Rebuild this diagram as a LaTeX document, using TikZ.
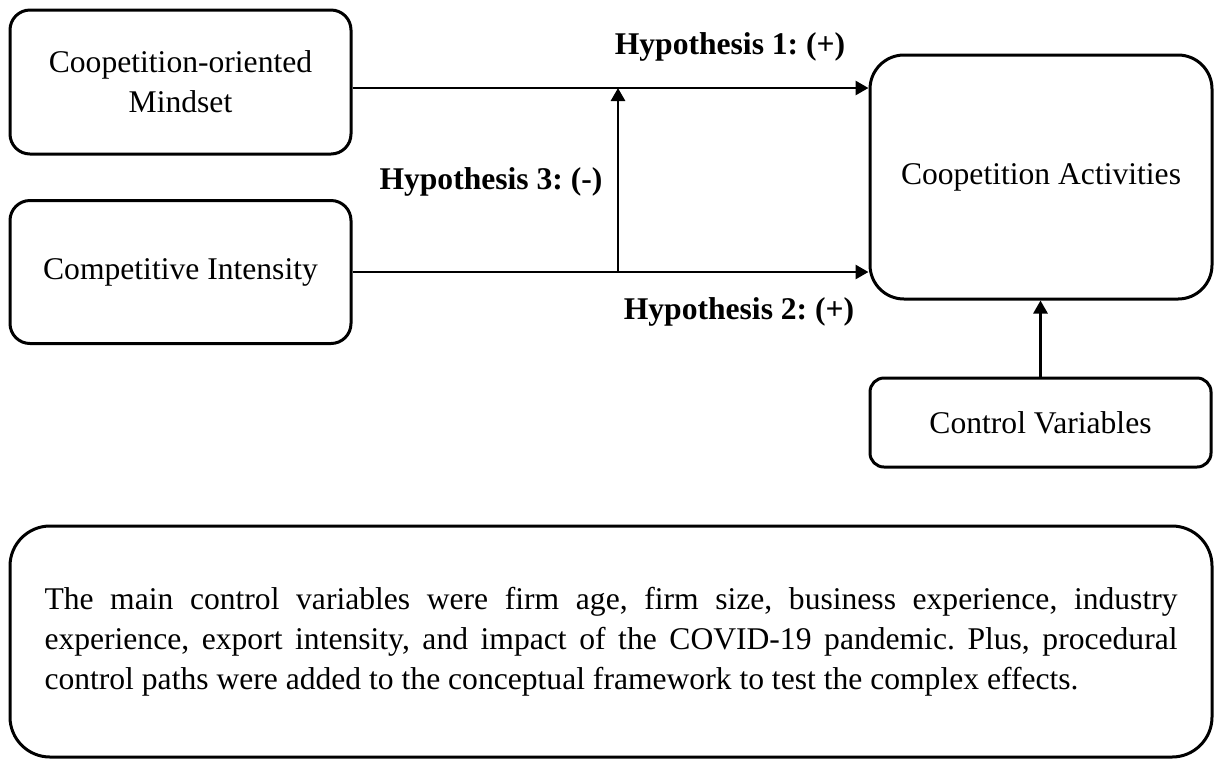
\documentclass[tikz,border=0pt]{standalone}
\usepackage{fontspec}
\setmainfont{Liberation Serif}
\usetikzlibrary{arrows.meta}
\frenchspacing

\tikzset{
	box/.style = {draw, line width=1.5pt, rounded corners=10pt, inner sep=0pt,
		align=center, font=\fontsize{15.8}{20}\selectfont},
	hyp/.style = {font=\fontsize{15.8}{20}\selectfont\bfseries},
	link/.style = {-{Triangle[length=6.5pt,width=7pt]}, line width=1.4pt},
}

\begin{document}
\begin{tikzpicture}[x=0.5pt, y=-0.5pt]
	\useasboundingbox (0,0) rectangle (1214,762);
	% boxes
	\node[box, minimum width=170.5pt, minimum height=72pt] (mind) at (180.5,82) {Coopetition-oriented\\Mindset};
	\node[box, minimum width=170.5pt, minimum height=71.5pt] (comp) at (180.5,272) {Competitive Intensity};
	\node[box, rounded corners=17pt, minimum width=171pt, minimum height=122pt] (act) at (1041,177) {Coopetition Activities};
	\node[box, rounded corners=7pt, minimum width=170.5pt, minimum height=44.5pt] (ctrl) at (1040.5,422.5) {Control Variables};
	\node[box, rounded corners=20pt, minimum width=601pt, minimum height=115.5pt,
		text width=566.5pt, align=justify] (note) at (611,641.5)
		{\hyphenpenalty=10000 The main control variables were firm age, firm size, business experience, industry\linebreak experience, export intensity, and impact of the COVID-19 pandemic. Plus, procedural\linebreak control paths were added to the conceptual framework to test the complex effects.};
	% labels
	\node[hyp] (h1) at (730,47) {Hypothesis 1: (+)};
	\node[hyp] (h2) at (739,312) {Hypothesis 2: (+)};
	\node[hyp] (h3) at (491,182) {Hypothesis 3: (-)};
	% paths
	\coordinate (up) at ([yshift=-3pt]mind.east);
	\coordinate (mod) at (618,0 |- comp.east);
	\draw[link] (up) -- (up -| act.west);
	\draw[link] (comp.east) -- (comp.east -| act.west);
	\draw[link] (mod) -- (mod |- up);
	\draw[link] (ctrl.north) -- (ctrl.north |- act.south);
\end{tikzpicture}
\end{document}
